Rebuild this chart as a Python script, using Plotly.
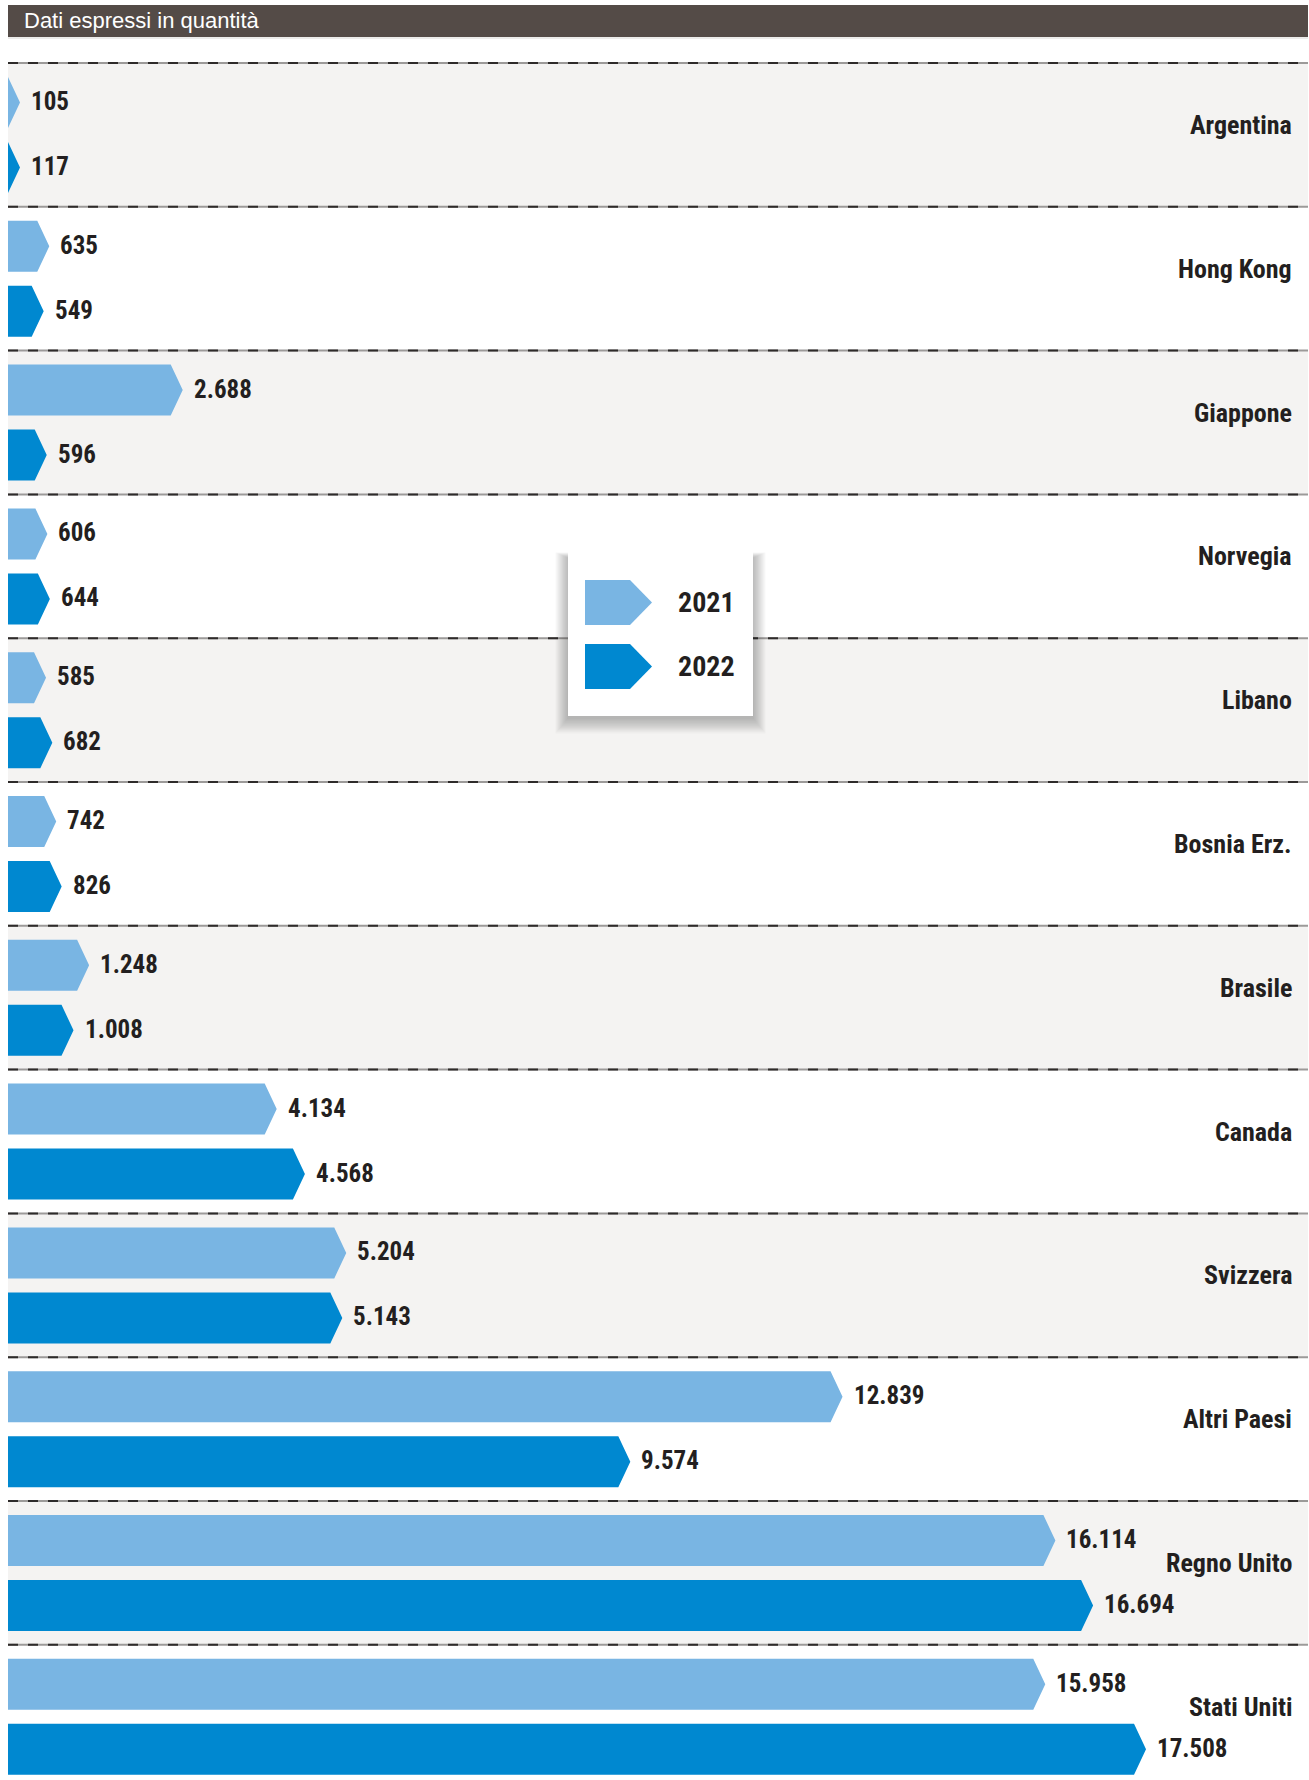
import plotly.graph_objects as go

# ---------------- data ----------------
countries = ["Argentina", "Hong Kong", "Giappone", "Norvegia", "Libano", "Bosnia Erz.",
             "Brasile", "Canada", "Svizzera", "Altri Paesi", "Regno Unito", "Stati Uniti"]
values_2021 = [105, 635, 2688, 606, 585, 742, 1248, 4134, 5204, 12839, 16114, 15958]
values_2022 = [117, 549, 596, 644, 682, 826, 1008, 4568, 5143, 9574, 16694, 17508]
series_names = ["2021", "2022"]
title_text = "Dati espressi in quantità"

# ---------------- style ----------------
W, H = 1309, 1780
COL_2021 = "#79b5e3"
COL_2022 = "#0088d0"
ROW_BG = "#f4f3f2"
TEXT_COL = "#231f20"
TITLE_BG = "#544b47"
NARROW = "Liberation Sans Narrow, Arial Narrow, Roboto Condensed, sans-serif"
SANS = "Liberation Sans, Arial, Helvetica, sans-serif"

PLOT_X0 = 8        # pixel where value 0 sits
SCALE = 0.065      # pixels per unit
ROW0 = 63          # pixel top of first row
ROWH = 143.8       # pixel height of a row
BAR_TOP = [14, 79] # offsets of the two bars inside a row
BAR_H = 51
TIP = 12           # arrow tip depth (px)


def xd(px):
    return (px - PLOT_X0) / SCALE


def yd(py):
    return (py - ROW0) / ROWH


def fmt(v):
    return f"{v:,}".replace(",", ".")


fig = go.Figure()
shapes = []
annotations = []
n = len(countries)

# title bar
shapes.append(dict(type="rect", xref="x", yref="y", x0=xd(8), x1=xd(1308), y0=yd(5), y1=yd(37),
                   fillcolor=TITLE_BG, line_width=0, layer="below"))
shapes.append(dict(type="line", xref="x", yref="y", x0=xd(8), x1=xd(1308), y0=yd(38), y1=yd(38),
                   line=dict(color="#d9d7d5", width=1), layer="below"))
annotations.append(dict(x=xd(22), y=yd(20), xref="x", yref="y", text=title_text, showarrow=False,
                        xanchor="left", yanchor="middle",
                        font=dict(family=SANS, size=22, color="white")))

# row backgrounds
for i in range(n):
    if i % 2 == 0:
        shapes.append(dict(type="rect", xref="x", yref="y", x0=xd(8), x1=xd(1308), y0=i, y1=i + 1,
                           fillcolor=ROW_BG, line_width=0, layer="below"))
# dashed separators
for i in range(n + 1):
    shapes.append(dict(type="line", xref="x", yref="y", x0=xd(8), x1=xd(1308), y0=i, y1=i,
                       line=dict(color="#9c9a99", width=2), layer="below"))
    shapes.append(dict(type="line", xref="x", yref="y", x0=xd(8), x1=xd(1308), y0=i, y1=i,
                       line=dict(color="#2e2b2a", width=2, dash="10px,10px"), layer="below"))

# arrow bars
tip_units = TIP / SCALE
for s, (name, vals, col) in enumerate(zip(series_names, [values_2021, values_2022], [COL_2021, COL_2022])):
    xs, ys = [], []
    for i, v in enumerate(vals):
        top = i + BAR_TOP[s] / ROWH
        bot = top + BAR_H / ROWH
        mid = (top + bot) / 2
        rect_end = max(0, v - tip_units)
        tip = max(v, tip_units)
        xs += [0, rect_end, tip, rect_end, 0, 0, None]
        ys += [top, top, mid, bot, bot, top, None]
        annotations.append(dict(x=tip, y=mid, xref="x", yref="y", text=fmt(v), showarrow=False,
                                xanchor="left", yanchor="middle", xshift=9, yshift=1,
                                font=dict(family=NARROW, size=25, color=TEXT_COL, weight="bold")))
    fig.add_trace(go.Scatter(x=xs, y=ys, mode="lines", fill="toself", fillcolor=col,
                             line=dict(width=0, color=col), name=name, hoverinfo="skip",
                             showlegend=False))

# country labels
for i, c in enumerate(countries):
    annotations.append(dict(x=xd(1294), y=i + 0.5, xref="x", yref="y", text=c, showarrow=False,
                            xanchor="right", yanchor="middle", yshift=10,
                            font=dict(family=NARROW, size=26, color=TEXT_COL, weight="bold")))

# custom legend box with soft shadow
LX0, LX1, LY0, LY1 = 568, 753, 548, 716
for k in range(14, 0, -1):
    shapes.append(dict(type="rect", xref="x", yref="y",
                       x0=xd(LX0 - k * 0.9), x1=xd(LX1 + k * 0.9),
                       y0=yd(LY0 + 10 - k * 0.4), y1=yd(LY1 + 2 + k * 1.1),
                       fillcolor="rgba(40,40,40,0.022)", line_width=0, layer="above"))
shapes.append(dict(type="rect", xref="x", yref="y", x0=xd(LX0), x1=xd(LX1), y0=yd(LY0), y1=yd(LY1),
                   fillcolor="white", line_width=0, layer="above"))
leg_rows = [(580, COL_2021, series_names[0]), (644, COL_2022, series_names[1])]
for top_px, col, name in leg_rows:
    bot_px = top_px + 45
    mid_px = (top_px + bot_px) / 2
    path = (f"M {xd(585)},{yd(top_px)} L {xd(630)},{yd(top_px)} L {xd(652)},{yd(mid_px)} "
            f"L {xd(630)},{yd(bot_px)} L {xd(585)},{yd(bot_px)} Z")
    shapes.append(dict(type="path", xref="x", yref="y", path=path, fillcolor=col,
                       line_width=0, layer="above"))
    annotations.append(dict(x=xd(676), y=yd(mid_px), xref="x", yref="y", text=name, showarrow=False,
                            xanchor="left", yanchor="middle", yshift=0,
                            font=dict(family=NARROW, size=28, color=TEXT_COL, weight="bold")))

fig.update_layout(
    width=W, height=H,
    margin=dict(l=0, r=0, t=0, b=0),
    paper_bgcolor="white", plot_bgcolor="white",
    xaxis=dict(range=[xd(0), xd(W)], visible=False, fixedrange=True),
    yaxis=dict(range=[yd(H), yd(0)], visible=False, fixedrange=True),
    shapes=shapes, annotations=annotations,
    showlegend=False,
)

fig.write_html("out.html", config={"displayModeBar": False},
               post_script="document.body.style.margin='0';document.body.style.padding='0';")
